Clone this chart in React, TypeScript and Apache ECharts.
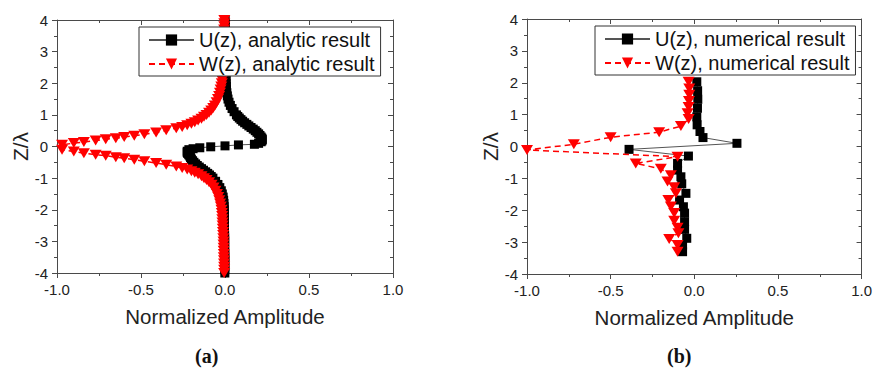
import React, { useEffect, useRef } from "react";
import * as echarts from "echarts";

// ---- data: [normalized amplitude, z/lambda] ----
const uAnalytic: number[][] = [
  [0.001, 4.0], [0.001, 3.9], [0.001, 3.8], [0.001, 3.7], [0.001, 3.6], [0.002, 3.5], [0.002, 3.4], [0.002, 3.3],
  [0.002, 3.2], [0.002, 3.1], [0.003, 3.0], [0.003, 2.9], [0.003, 2.8], [0.003, 2.7], [0.004, 2.6], [0.004, 2.5],
  [0.004, 2.4], [0.005, 2.3], [0.005, 2.2], [0.006, 2.1], [0.007, 2.0], [0.008, 1.9], [0.009, 1.8], [0.011, 1.7],
  [0.014, 1.6], [0.018, 1.5], [0.024, 1.4], [0.032, 1.3], [0.042, 1.2], [0.054, 1.1], [0.068, 1.0], [0.076, 0.95],
  [0.085, 0.9], [0.095, 0.85], [0.105, 0.8], [0.117, 0.75], [0.13, 0.7], [0.142, 0.65], [0.155, 0.6], [0.168, 0.55],
  [0.18, 0.5], [0.19, 0.45], [0.2, 0.4], [0.208, 0.35], [0.215, 0.3], [0.22, 0.26], [0.222, 0.22], [0.22, 0.18],
  [0.215, 0.15], [0.2, 0.1], [0.175, 0.07], [0.08, 0.05], [0.0, 0.02], [-0.085, -0.01], [-0.15, -0.04], [-0.19, -0.07],
  [-0.215, -0.1], [-0.225, -0.15], [-0.225, -0.19], [-0.222, -0.22], [-0.216, -0.26], [-0.21, -0.3], [-0.205, -0.35],
  [-0.2, -0.4], [-0.193, -0.45], [-0.185, -0.5], [-0.175, -0.55], [-0.165, -0.6], [-0.153, -0.65], [-0.14, -0.7],
  [-0.128, -0.75], [-0.115, -0.8], [-0.103, -0.85], [-0.092, -0.9], [-0.082, -0.95], [-0.072, -1.0], [-0.056, -1.1],
  [-0.042, -1.2], [-0.031, -1.3], [-0.022, -1.4], [-0.016, -1.5], [-0.011, -1.6], [-0.008, -1.7], [-0.006, -1.8],
  [-0.005, -1.9], [-0.004, -2.0], [-0.004, -2.1], [-0.004, -2.2], [-0.003, -2.3], [-0.003, -2.4], [-0.003, -2.5],
  [-0.003, -2.6], [-0.003, -2.7], [-0.002, -2.8], [-0.002, -2.9], [-0.002, -3.0], [-0.002, -3.1], [-0.002, -3.2],
  [-0.002, -3.3], [-0.001, -3.4], [-0.001, -3.5], [-0.001, -3.6], [-0.001, -3.7], [-0.001, -3.8], [-0.001, -3.9],
  [-0.001, -4.0],
];

const wAnalytic: number[][] = [
  [-0.004, 4.0], [-0.004, 3.9], [-0.004, 3.8], [-0.005, 3.7], [-0.005, 3.6], [-0.005, 3.5], [-0.006, 3.4],
  [-0.006, 3.3], [-0.007, 3.2], [-0.007, 3.1], [-0.008, 3.0], [-0.008, 2.9], [-0.009, 2.8], [-0.01, 2.7],
  [-0.011, 2.6], [-0.012, 2.5], [-0.013, 2.4], [-0.014, 2.3], [-0.015, 2.2], [-0.017, 2.1], [-0.019, 2.0],
  [-0.022, 1.9], [-0.026, 1.8], [-0.03, 1.7], [-0.035, 1.6], [-0.042, 1.5], [-0.05, 1.4], [-0.06, 1.3],
  [-0.07, 1.22], [-0.082, 1.14], [-0.095, 1.07], [-0.11, 1.0], [-0.125, 0.94], [-0.14, 0.88], [-0.16, 0.82],
  [-0.18, 0.77], [-0.2, 0.72], [-0.225, 0.67], [-0.255, 0.62], [-0.29, 0.58], [-0.35, 0.51], [-0.41, 0.44],
  [-0.48, 0.39], [-0.54, 0.34], [-0.6, 0.3], [-0.65, 0.26], [-0.71, 0.23], [-0.77, 0.19], [-0.84, 0.14],
  [-0.9, 0.107], [-0.97, 0.054],
  [-0.97, -0.105], [-0.9, -0.16], [-0.84, -0.21], [-0.77, -0.26], [-0.71, -0.29], [-0.65, -0.34], [-0.6, -0.37],
  [-0.54, -0.42], [-0.48, -0.47], [-0.41, -0.52], [-0.35, -0.58], [-0.29, -0.63], [-0.255, -0.68], [-0.225, -0.73],
  [-0.2, -0.78], [-0.18, -0.83], [-0.16, -0.88], [-0.14, -0.94], [-0.125, -1.0], [-0.11, -1.06], [-0.095, -1.13],
  [-0.08, -1.21], [-0.068, -1.3], [-0.057, -1.4], [-0.048, -1.5], [-0.04, -1.6], [-0.034, -1.7], [-0.029, -1.8],
  [-0.025, -1.9], [-0.021, -2.0], [-0.019, -2.1], [-0.017, -2.2], [-0.016, -2.3], [-0.015, -2.4], [-0.014, -2.5],
  [-0.013, -2.6], [-0.012, -2.7], [-0.011, -2.8], [-0.01, -2.9], [-0.009, -3.0], [-0.009, -3.1], [-0.008, -3.2],
  [-0.008, -3.3], [-0.007, -3.4], [-0.007, -3.5], [-0.006, -3.6], [-0.006, -3.7], [-0.005, -3.8], [-0.005, -3.9],
  [-0.005, -4.0],
];

const uNumerical: number[][] = [
  [0.015, 2.03], [0.02, 1.75], [0.021, 1.48], [0.019, 1.2], [0.015, 0.93], [0.017, 0.68], [0.034, 0.47],
  [0.052, 0.28], [0.255, 0.1], [-0.39, -0.09], [-0.035, -0.3], [-0.1, -0.53], [-0.1, -0.74], [-0.08, -0.95],
  [-0.075, -1.17], [-0.05, -1.47], [-0.088, -1.68], [-0.065, -1.89], [-0.058, -2.09], [-0.058, -2.36],
  [-0.058, -2.6], [-0.045, -2.88], [-0.07, -3.09], [-0.07, -3.3],
];

const wNumerical: number[][] = [
  [-0.034, 2.03], [-0.03, 1.82], [-0.03, 1.62], [-0.032, 1.43], [-0.034, 1.24], [-0.04, 1.04], [-0.034, 0.86],
  [-0.08, 0.64], [-0.21, 0.45], [-0.5, 0.29], [-0.72, 0.07], [-1.0, -0.11], [-0.1, -0.32], [-0.35, -0.53],
  [-0.2, -0.7], [-0.14, -0.9], [-0.16, -1.1], [-0.12, -1.28], [-0.11, -1.47], [-0.155, -1.68], [-0.14, -1.88],
  [-0.12, -2.09], [-0.12, -2.33], [-0.1, -2.55], [-0.095, -2.72], [-0.15, -2.9], [-0.1, -3.09], [-0.1, -3.3],
];

const seriesNames = [
  "U(z), analytic result",
  "W(z), analytic result",
  "U(z), numerical result",
  "W(z), numerical result",
];
const xAxisTitle = "Normalized Amplitude";
const yAxisTitle = "Z/λ";
const captions = ["(a)", "(b)"];

const FONT = "'Liberation Sans', Arial, sans-serif";
const AXIS_COLOR = "#4a4a4a";

const grids = [
  { left: 57, top: 20, width: 336, height: 253 },
  { left: 527, top: 19, width: 337, height: 255 },
];

function xAxes(gi: number) {
  const common = {
    type: "value",
    gridIndex: gi,
    min: -1,
    max: 1,
    interval: 0.5,
    splitLine: { show: false },
    axisLine: { show: true, onZero: false, lineStyle: { color: AXIS_COLOR, width: 1 } },
    minorTick: { show: true, splitNumber: 2, length: 3, lineStyle: { color: AXIS_COLOR } },
  };
  return [
    {
      ...common,
      position: "bottom",
      axisTick: { show: true, inside: false, length: 5, lineStyle: { color: AXIS_COLOR } },
      axisLabel: {
        show: true,
        margin: 9,
        fontSize: 15,
        color: "#222",
        fontFamily: FONT,
        formatter: (v: number) => v.toFixed(1),
      },
      name: xAxisTitle,
      nameLocation: "middle",
      nameGap: 33,
      nameTextStyle: { fontSize: 20.5, color: "#222", fontFamily: FONT },
    },
    {
      ...common,
      position: "top",
      axisTick: { show: true, inside: true, length: 5, lineStyle: { color: AXIS_COLOR } },
      axisLabel: { show: false },
    },
  ];
}

function yAxes(gi: number) {
  const common = {
    type: "value",
    gridIndex: gi,
    min: -4,
    max: 4,
    interval: 1,
    splitLine: { show: false },
    axisLine: { show: true, onZero: false, lineStyle: { color: AXIS_COLOR, width: 1 } },
    minorTick: { show: true, splitNumber: 2, length: 3, lineStyle: { color: AXIS_COLOR } },
  };
  return [
    {
      ...common,
      position: "left",
      axisTick: { show: true, inside: false, length: 5, lineStyle: { color: AXIS_COLOR } },
      axisLabel: { show: true, margin: 9, fontSize: 15, color: "#222", fontFamily: FONT },
      name: yAxisTitle,
      nameLocation: "middle",
      nameGap: 26,
      nameTextStyle: { fontSize: 21, color: "#222", fontFamily: FONT },
    },
    {
      ...common,
      position: "right",
      axisTick: { show: true, inside: true, length: 5, lineStyle: { color: AXIS_COLOR } },
      axisLabel: { show: false },
    },
  ];
}

function uSeries(name: string, data: number[][], gi: number, size: number) {
  return {
    name,
    type: "line",
    xAxisIndex: gi * 2,
    yAxisIndex: gi * 2,
    data,
    symbol: "rect",
    symbolSize: size,
    showSymbol: true,
    itemStyle: { color: "#000" },
    lineStyle: { color: "#555", width: 1 },
    z: 2,
  };
}

function wSeries(name: string, data: number[][], gi: number, size: number[]) {
  return {
    name,
    type: "line",
    xAxisIndex: gi * 2,
    yAxisIndex: gi * 2,
    data,
    symbol: "triangle",
    symbolRotate: 180,
    symbolSize: size,
    showSymbol: true,
    itemStyle: { color: "#ff0000" },
    lineStyle: { color: "#ff0000", width: 1.5, type: [6, 4] },
    z: 3,
  };
}

function legend(left: number, top: number, names: string[]) {
  return {
    left,
    top,
    orient: "vertical",
    data: names,
    itemWidth: 45,
    itemHeight: 14,
    itemGap: 4,
    padding: [3, 6, 2, 9],
    borderColor: "#333",
    borderWidth: 1,
    backgroundColor: "#fff",
    selectedMode: false,
    textStyle: { fontSize: 20, color: "#111", fontFamily: FONT, lineHeight: 20 },
  };
}

export default function App() {
  const ref = useRef<HTMLDivElement>(null);
  useEffect(() => {
    if (!ref.current) return;
    const chart = echarts.init(ref.current, undefined, { renderer: "svg" });
    chart.setOption({
      animation: false,
      backgroundColor: "#fff",
      grid: grids,
      xAxis: [...xAxes(0), ...xAxes(1)],
      yAxis: [...yAxes(0), ...yAxes(1)],
      legend: [
        legend(139, 27, [seriesNames[0], seriesNames[1]]),
        legend(595, 26, [seriesNames[2], seriesNames[3]]),
      ],
      series: [
        uSeries(seriesNames[0], uAnalytic, 0, 9),
        wSeries(seriesNames[1], wAnalytic, 0, [12, 10]),
        uSeries(seriesNames[2], uNumerical, 1, 9),
        wSeries(seriesNames[3], wNumerical, 1, [12, 10]),
      ],
      graphic: [
        {
          type: "text",
          left: 208 - 13,
          top: 346,
          style: { text: captions[0], font: "bold 20px 'Liberation Serif', serif", fill: "#111" },
        },
        {
          type: "text",
          left: 680 - 13,
          top: 346,
          style: { text: captions[1], font: "bold 20px 'Liberation Serif', serif", fill: "#111" },
        },
      ],
    });
    return () => chart.dispose();
  }, []);
  return (
    <div
      ref={ref}
      style={{ position: "absolute", left: 0, top: 0, width: 875, height: 371, background: "#fff" }}
    />
  );
}
